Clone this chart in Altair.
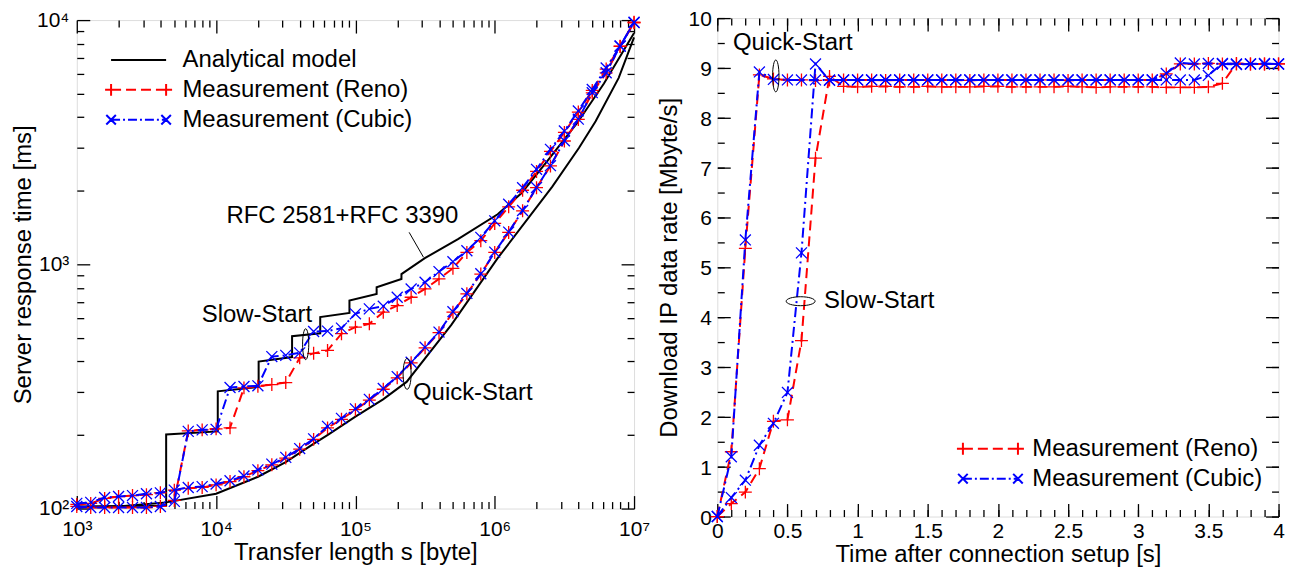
import altair as alt
import pandas as pd

FONT = "Liberation Sans"

# ===================== LEFT PANEL: response time vs. transfer length =====================
SIZES = [1000, 1259, 1585, 1995, 2512, 3162, 3981, 5012, 6310, 7943,
         10000, 12589, 15849, 19953, 25119, 31623, 39811, 50119, 63096, 79433,
         100000, 125893, 158489, 199526, 251189, 316228, 398107, 501187, 630957, 794328,
         1000000, 1258925, 1584893, 1995262, 2511886, 3162278, 3981072, 5011872, 6309573, 7943282,
         10000000]
RENO_SLOW = [102, 101, 101, 101, 101, 101, 102, 108, 208, 210,
             212, 214, 312, 317, 322, 328, 414, 432, 444, 520,
             553, 571, 637, 678, 733, 793, 872, 963, 1119, 1250,
             1470, 1720, 2010, 2400, 2900, 3470, 4200, 5150, 6300, 7800, 9800]
CUBIC_SLOW = [102, 101, 101, 101, 101, 101, 102, 107, 207, 210,
              211, 313, 316, 318, 419, 424, 434, 531, 533, 548,
              627, 657, 674, 733, 793, 845, 934, 1025, 1137, 1289,
              1507, 1762, 2060, 2449, 2957, 3516, 4247, 5198, 6368, 7820, 9800]
RENO_QUICK = [104, 105, 110, 112, 113, 114, 116, 119, 121, 122,
              125, 129, 135, 143, 151, 161, 175, 192, 214, 232,
              254, 278, 308, 343, 395, 455, 525, 637, 757, 912,
              1119, 1351, 1656, 2060, 2528, 3199, 3920, 5035, 6080, 7820, 9750]
CUBIC_QUICK = [105, 106, 111, 112, 113, 115, 116, 119, 122, 123,
               126, 130, 136, 144, 152, 162, 176, 193, 217, 234,
               256, 280, 310, 347, 397, 458, 528, 640, 760, 915,
               1122, 1355, 1660, 2065, 2535, 3205, 3930, 5045, 6090, 7830, 9760]

MODEL_SLOW_X = [1000, 4380, 4380, 10280, 10280, 20200, 20200, 35100, 35100, 55900, 55900,
                90600, 90600, 142000, 142000, 214000, 214000, 315000, 545000, 1050000,
                1560000, 2390000, 3920000, 6080000, 10000000]
MODEL_SLOW_Y = [102, 103, 201, 207, 302, 315, 400, 417, 508, 522, 608,
                632, 711, 757, 805, 871, 912, 1060, 1268, 1603,
                1960, 2650, 3800, 5500, 8850]
MODEL_QUICK_X = [1000, 2000, 4380, 10000, 20000, 31600, 50000, 63000, 100000, 158000,
                 233000, 488000, 1050000, 2590000, 4030000, 5300000, 7760000, 10000000]
MODEL_QUICK_Y = [101, 102, 106, 115, 135, 155, 184, 200, 238, 280,
                 330, 565, 1060, 2080, 3000, 3850, 5800, 8500]

L_X_TICKS = [1000, 10000, 100000, 1000000, 10000000]
L_X_LABELS = ["10³", "10⁴", "10⁵", "10⁶", "10⁷"]
L_X_MINOR = [m * d for d in [1000, 10000, 100000, 1000000] for m in range(2, 10)]
L_Y_TICKS = [100, 1000, 10000]
L_Y_LABELS = ["10²", "10³", "10⁴"]
L_Y_MINOR = [m * d for d in [100, 1000] for m in range(2, 10)]

L_LEGEND = ["Analytical model", "Measurement (Reno)", "Measurement (Cubic)"]

# annotations (data coordinates)
L_TEXT_X = [19630, 259000, 80700]
L_TEXT_Y = [619, 297, 1570]
L_TEXT = ["Slow-Start", "Quick-Start", "RFC 2581+RFC 3390"]
L_TEXT_ALIGN = ["center", "left", "center"]
L_LEADER_X = [243000, 308000]
L_LEADER_Y = [1352, 1069]
L_ELLIPSE_X = [43950, 235000]
L_ELLIPSE_Y = [471, 356]

# ===================== RIGHT PANEL: download rate vs. time =====================
TIMES = [0.0, 0.1, 0.2, 0.3, 0.4, 0.5, 0.6, 0.7, 0.8, 0.9,
         1.0, 1.1, 1.2, 1.3, 1.4, 1.5, 1.6, 1.7, 1.8, 1.9,
         2.0, 2.1, 2.2, 2.3, 2.4, 2.5, 2.6, 2.7, 2.8, 2.9,
         3.0, 3.1, 3.2, 3.3, 3.4, 3.5, 3.6, 3.7, 3.8, 3.9, 4.0]
RENO_QS_R = [0.00, 1.30, 5.38, 8.86, 8.78, 8.76, 8.76, 8.75, 8.76, 8.76,
             8.76, 8.76, 8.75, 8.76, 8.76, 8.76, 8.76, 8.76, 8.75, 8.76,
             8.76, 8.76, 8.76, 8.76, 8.76, 8.75, 8.76, 8.76, 8.76, 8.76,
             8.76, 8.76, 8.88, 9.08, 9.08, 9.09, 9.08, 9.08, 9.08, 9.08, 9.08]
CUBIC_QS_R = [0.00, 1.20, 5.55, 8.92, 8.77, 8.76, 8.76, 8.76, 8.76, 8.76,
              8.76, 8.76, 8.76, 8.76, 8.76, 8.76, 8.76, 8.76, 8.76, 8.76,
              8.76, 8.76, 8.76, 8.76, 8.76, 8.76, 8.76, 8.76, 8.76, 8.76,
              8.76, 8.76, 8.89, 9.10, 9.08, 9.09, 9.08, 9.07, 9.08, 9.08, 9.08]
RENO_SS_R = [0.00, 0.26, 0.49, 0.96, 1.91, 1.94, 3.53, 7.19, 8.83, 8.63,
             8.62, 8.63, 8.63, 8.62, 8.62, 8.63, 8.62, 8.62, 8.62, 8.63,
             8.63, 8.62, 8.62, 8.62, 8.62, 8.63, 8.62, 8.61, 8.62, 8.62,
             8.62, 8.62, 8.61, 8.61, 8.61, 8.62, 8.69, 9.09, 9.08, 9.08, 9.08]
CUBIC_SS_R = [0.00, 0.38, 0.73, 1.43, 1.87, 2.49, 5.29, 9.08, 8.75, 8.76,
              8.76, 8.76, 8.76, 8.76, 8.76, 8.76, 8.76, 8.76, 8.76, 8.76,
              8.76, 8.76, 8.76, 8.76, 8.76, 8.76, 8.76, 8.76, 8.76, 8.76,
              8.76, 8.76, 8.76, 8.76, 8.76, 8.85, 9.09, 9.08, 9.08, 9.09, 9.08]

R_X_TICKS = [0, 0.5, 1, 1.5, 2, 2.5, 3, 3.5, 4]
R_X_LABELS = ["0", "0.5", "1", "1.5", "2", "2.5", "3", "3.5", "4"]
R_X_MINOR = [i / 10 for i in range(41)]
R_Y_TICKS = [0, 1, 2, 3, 4, 5, 6, 7, 8, 9, 10]
R_Y_LABELS = ["0", "1", "2", "3", "4", "5", "6", "7", "8", "9", "10"]
R_Y_MINOR = [i / 2 for i in range(21)]

R_LEGEND = ["Measurement (Reno)", "Measurement (Cubic)"]

R_TEXT_X = [0.538, 1.154]
R_TEXT_Y = [9.5, 4.32]
R_TEXT = ["Quick-Start", "Slow-Start"]
R_ELLIPSE_V_X = [0.417]
R_ELLIPSE_V_Y = [8.84]
R_ELLIPSE_H_X = [0.594]
R_ELLIPSE_H_Y = [4.32]

for s in (RENO_SLOW, CUBIC_SLOW, RENO_QUICK, CUBIC_QUICK):
    assert len(s) == len(SIZES)
for s in (RENO_QS_R, CUBIC_QS_R, RENO_SS_R, CUBIC_SS_R):
    assert len(s) == len(TIMES)

# ---------------- styles ----------------
RED = "#ff0000"
BLUE = "#0000ff"
PLUS = "M-1,0H1M0,-1V1"
CROSS = "M-1,-1L1,1M-1,1L1,-1"
LEG_MODEL = "M-4.6,0H4.6"
LEG_RENO = ("M-4.6,-1V1M4.6,-1V1M-5.6,0H-3.6M3.6,0H5.6"
            "M-4.6,0H-2.93M-2.1,0H-0.43M0.4,0H2.07M2.9,0H4.6")
LEG_CUBIC = ("M-5.4,-0.8L-3.8,0.8M-5.4,0.8L-3.8,-0.8M3.8,-0.8L5.4,0.8M3.8,0.8L5.4,-0.8"
             "M-4.6,0H-3.1M-2.6,0H-2.27M-1.77,0H-0.27M0.23,0H0.56M1.06,0H2.56M3.06,0H3.39M3.89,0H4.6")
V_ELLIPSE = "M0,-1A0.2,1 0 1,1 0,1A0.2,1 0 1,1 0,-1Z"
V_ELLIPSE_W = "M0,-1A0.26,1 0 1,1 0,1A0.26,1 0 1,1 0,-1Z"
H_ELLIPSE = "M-1,0A1,0.31 0 1,1 1,0A1,0.31 0 1,1 -1,0Z"

MAJOR_TICK = 13
MINOR_TICK = 7


def label_expr(values, labels, rel=False):
    expr = "''"
    for v, lab in reversed(list(zip(values, labels))):
        if rel:
            cond = f"abs(datum.value / {v} - 1) < 1e-6"
        else:
            cond = f"abs(datum.value - {v}) < 1e-6"
        expr = f"{cond} ? '{lab}' : {expr}"
    return expr


def tick_axis(orient, values, size, **kw):
    return alt.Axis(orient=orient, values=values, labels=False, title=None, domain=False,
                    grid=False, ticks=True, tickSize={"expr": str(-size)},
                    tickColor="black", tickWidth=1.3, **kw)


def label_axis(orient, values, expr, title, label_padding, title_padding, extent=None, **extra):
    kw = dict(orient=orient, values=values, labelExpr=expr, ticks=False, domain=False, grid=False,
              labelFont=FONT, labelFontSize=21, labelColor="black", labelPadding=label_padding,
              labelFlush=False, labelOverlap=False, title=title, titleFont=FONT,
              titleFontSize=24, titleFontWeight="normal", titleColor="black",
              titlePadding=title_padding)
    if extent is not None:
        kw.update(minExtent=extent, maxExtent=extent)
    kw.update(extra)
    return alt.Axis(**kw)


def legend_def(x, y, label_offset):
    return alt.Legend(title=None, orient="none", legendX=x, legendY=y, labelFont=FONT,
                      labelFontSize=24, labelColor="black", symbolSize=144,
                      symbolStrokeWidth=2, symbolOpacity=1, labelOffset=label_offset,
                      rowPadding=6, padding=0, labelLimit=0)


def series_df(xs, ys, name):
    return pd.DataFrame({"x": xs, "y": ys, "i": list(range(len(xs))), "group": name})


# ===================== build left panel =====================
lx = alt.Scale(type="log", domain=[1000, 10000000], nice=False)
ly = alt.Scale(type="log", domain=[100, 10000], nice=False)


def LX(axis=None):
    return alt.X("x:Q", scale=lx, axis=axis)


def LY(axis=None):
    return alt.Y("y:Q", scale=ly, axis=axis)


df_model_slow = series_df(MODEL_SLOW_X, MODEL_SLOW_Y, "model_slow")
df_model_quick = series_df(MODEL_QUICK_X, MODEL_QUICK_Y, "model_quick")
df_reno = pd.concat([series_df(SIZES, RENO_SLOW, "slow"), series_df(SIZES, RENO_QUICK, "quick")])
df_cubic = pd.concat([series_df(SIZES, CUBIC_SLOW, "slow"), series_df(SIZES, CUBIC_QUICK, "quick")])

left_layers = []
for dfm in (df_model_slow, df_model_quick):
    left_layers.append(alt.Chart(dfm).mark_line(color="black", strokeWidth=2).encode(
        x=LX(), y=LY(), order="i:Q"))
left_layers.append(alt.Chart(df_reno).mark_line(color=RED, strokeWidth=2, strokeDash=[10, 6]).encode(
    x=LX(), y=LY(), detail="group:N", order="i:Q"))
left_layers.append(alt.Chart(df_reno).mark_point(shape=PLUS, size=169, filled=False, color=RED,
                                                 strokeWidth=1.3, opacity=1).encode(x=LX(), y=LY()))
left_layers.append(alt.Chart(df_cubic).mark_line(color=BLUE, strokeWidth=2, strokeDash=[10, 4, 2, 4]).encode(
    x=LX(), y=LY(), detail="group:N", order="i:Q"))
left_layers.append(alt.Chart(df_cubic).mark_point(shape=CROSS, size=121, filled=False, color=BLUE,
                                                  strokeWidth=1.3, opacity=1).encode(x=LX(), y=LY()))

# annotations
df_ltext = pd.DataFrame({"x": L_TEXT_X, "y": L_TEXT_Y, "t": L_TEXT, "a": L_TEXT_ALIGN})
for al in ("center", "left"):
    left_layers.append(alt.Chart(df_ltext[df_ltext.a == al]).mark_text(
        font=FONT, fontSize=24, color="black", align=al, baseline="middle").encode(
        x=LX(), y=LY(), text="t:N"))
left_layers.append(alt.Chart(pd.DataFrame({"x": L_LEADER_X, "y": L_LEADER_Y})).mark_line(
    color="black", strokeWidth=1).encode(x=LX(), y=LY()))
left_layers.append(alt.Chart(pd.DataFrame({"x": L_ELLIPSE_X[:1], "y": L_ELLIPSE_Y[:1]})).mark_point(
    shape=V_ELLIPSE, size=961, filled=False, color="black", strokeWidth=1, opacity=1).encode(x=LX(), y=LY()))
left_layers.append(alt.Chart(pd.DataFrame({"x": L_ELLIPSE_X[1:], "y": L_ELLIPSE_Y[1:]})).mark_point(
    shape=V_ELLIPSE_W, size=961, filled=False, color="black", strokeWidth=1, opacity=1).encode(x=LX(), y=LY()))

# legend (invisible anchor points carry the legend)
df_lleg = pd.DataFrame({"x": [100000] * 3, "y": [1000] * 3, "name": L_LEGEND})
lleg = legend_def(50, 28, 32)
left_layers.append(alt.Chart(df_lleg).mark_point(filled=False, opacity=0).encode(
    x=LX(), y=LY(),
    color=alt.Color("name:N", scale=alt.Scale(domain=L_LEGEND, range=["black", RED, BLUE]), legend=lleg),
    shape=alt.Shape("name:N", scale=alt.Scale(domain=L_LEGEND, range=[LEG_MODEL, LEG_RENO, LEG_CUBIC]),
                    legend=lleg)))

# axes
l_axes = [
    (label_axis("bottom", L_X_TICKS, label_expr(L_X_TICKS, L_X_LABELS, rel=True),
                "Transfer length s [byte]", 10, 1),
     label_axis("left", L_Y_TICKS, label_expr(L_Y_TICKS, L_Y_LABELS, rel=True),
                "Server response time [ms]", 8, 8, extent=33)),
    (tick_axis("bottom", L_X_TICKS, MAJOR_TICK), tick_axis("left", L_Y_TICKS, MAJOR_TICK)),
    (tick_axis("bottom", L_X_MINOR, MINOR_TICK), tick_axis("left", L_Y_MINOR, MINOR_TICK)),
    (tick_axis("top", L_X_TICKS, MAJOR_TICK, minExtent=16), tick_axis("right", L_Y_TICKS, MAJOR_TICK)),
    (tick_axis("top", L_X_MINOR, MINOR_TICK), tick_axis("right", L_Y_MINOR, MINOR_TICK)),
]
for xa, ya in l_axes:
    left_layers.append(alt.Chart(df_model_quick).mark_point(opacity=0).encode(x=LX(xa), y=LY(ya)))

left = alt.layer(*left_layers).resolve_axis(x="independent", y="independent").properties(
    width=559, height=490)

# ===================== build right panel =====================
rx = alt.Scale(domain=[0, 4], nice=False, zero=False)
ry = alt.Scale(domain=[0, 10], nice=False, zero=False)


def RX(axis=None):
    return alt.X("x:Q", scale=rx, axis=axis)


def RY(axis=None):
    return alt.Y("y:Q", scale=ry, axis=axis)


df_reno_r = pd.concat([series_df(TIMES, RENO_QS_R, "quick"), series_df(TIMES, RENO_SS_R, "slow")])
df_cubic_r = pd.concat([series_df(TIMES, CUBIC_QS_R, "quick"), series_df(TIMES, CUBIC_SS_R, "slow")])

right_layers = []
right_layers.append(alt.Chart(df_reno_r).mark_line(color=RED, strokeWidth=2, strokeDash=[10, 6]).encode(
    x=RX(), y=RY(), detail="group:N", order="i:Q"))
right_layers.append(alt.Chart(df_reno_r).mark_point(shape=PLUS, size=169, filled=False, color=RED,
                                                    strokeWidth=1.3, opacity=1).encode(x=RX(), y=RY()))
right_layers.append(alt.Chart(df_cubic_r).mark_line(color=BLUE, strokeWidth=2, strokeDash=[10, 4, 2, 4]).encode(
    x=RX(), y=RY(), detail="group:N", order="i:Q"))
right_layers.append(alt.Chart(df_cubic_r).mark_point(shape=CROSS, size=121, filled=False, color=BLUE,
                                                     strokeWidth=1.3, opacity=1).encode(x=RX(), y=RY()))
right_layers.append(alt.Chart(pd.DataFrame({"x": R_TEXT_X, "y": R_TEXT_Y, "t": R_TEXT})).mark_text(
    font=FONT, fontSize=24, color="black", align="center", baseline="middle").encode(
    x=RX(), y=RY(), text="t:N"))
right_layers.append(alt.Chart(pd.DataFrame({"x": R_ELLIPSE_V_X, "y": R_ELLIPSE_V_Y})).mark_point(
    shape=V_ELLIPSE, size=1024, filled=False, color="black", strokeWidth=1, opacity=1).encode(x=RX(), y=RY()))
right_layers.append(alt.Chart(pd.DataFrame({"x": R_ELLIPSE_H_X, "y": R_ELLIPSE_H_Y})).mark_point(
    shape=H_ELLIPSE, size=841, filled=False, color="black", strokeWidth=1, opacity=1).encode(x=RX(), y=RY()))

df_rleg = pd.DataFrame({"x": [2.0] * 2, "y": [5.0] * 2, "series": R_LEGEND})
rleg = legend_def(262, 420, 30)
right_layers.append(alt.Chart(df_rleg).mark_point(filled=False, opacity=0).encode(
    x=RX(), y=RY(),
    color=alt.Color("series:N", scale=alt.Scale(domain=R_LEGEND, range=[RED, BLUE]), legend=rleg),
    shape=alt.Shape("series:N", scale=alt.Scale(domain=R_LEGEND, range=[LEG_RENO, LEG_CUBIC]), legend=rleg)))

r_axes = [
    (label_axis("bottom", R_X_TICKS, label_expr(R_X_TICKS, R_X_LABELS),
                "Time after connection setup [s]", 4, 1),
     label_axis("left", R_Y_TICKS, label_expr(R_Y_TICKS, R_Y_LABELS),
                "Download IP data rate [Mbyte/s]", 6, 8, extent=28, labelOffset=1.5)),
    (tick_axis("bottom", R_X_TICKS, MAJOR_TICK), tick_axis("left", R_Y_TICKS, MAJOR_TICK)),
    (tick_axis("bottom", R_X_MINOR, MINOR_TICK), tick_axis("left", R_Y_MINOR, MINOR_TICK)),
    (tick_axis("top", R_X_TICKS, MAJOR_TICK, minExtent=16), tick_axis("right", R_Y_TICKS, MAJOR_TICK)),
    (tick_axis("top", R_X_MINOR, MINOR_TICK), tick_axis("right", R_Y_MINOR, MINOR_TICK)),
]
for xa, ya in r_axes:
    right_layers.append(alt.Chart(df_rleg).mark_point(opacity=0).encode(x=RX(xa), y=RY(ya)))

right = alt.layer(*right_layers).resolve_axis(x="independent", y="independent").properties(
    width=563, height=500)

chart = alt.hconcat(left, right, spacing=6.5, center=True).resolve_scale(
    color="independent", shape="independent").properties(
    padding={"left": 3, "top": -8, "right": 0, "bottom": 0}
).configure_view(stroke="black", strokeWidth=1.5).configure(font=FONT)

chart.save("out.html", embed_options={"renderer": "svg", "actions": False})
